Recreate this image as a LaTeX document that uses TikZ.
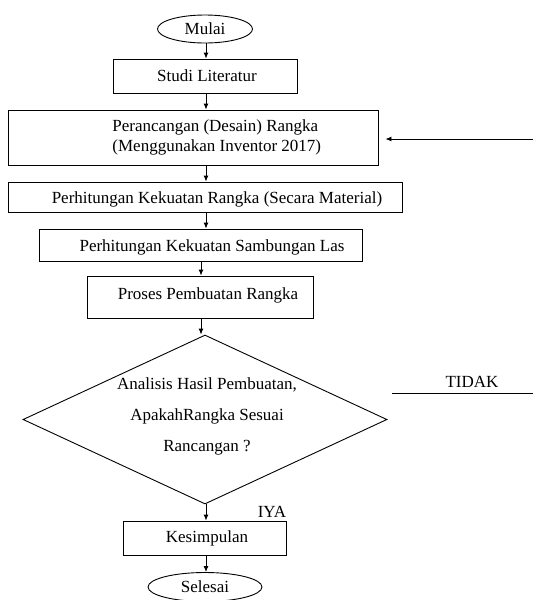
\documentclass[tikz,border=0pt]{standalone}
\usepackage{fontspec}
\setmainfont{Liberation Serif}
\usetikzlibrary{shapes.geometric,arrows.meta}
\begin{document}
\begin{tikzpicture}[x=1pt,y=-1pt,
  line width=0.9pt,
  every node/.style={font=\fontsize{17}{20}\selectfont},
  box/.style={draw, rectangle, inner sep=0pt},
  term/.style={draw, ellipse, inner sep=0pt},
  txt/.style={inner sep=0pt},
  arr/.style={-{Latex[length=6pt,width=5pt]}}]
\useasboundingbox (0,0) rectangle (533,600);
% x references for vertical connectors
\coordinate (xa) at (206,0);
\coordinate (xb) at (201,0);
% terminals
\node[term, minimum width=95pt, minimum height=28pt] (start) at (205,29) {Mulai};
\node[term, minimum width=114pt, minimum height=29pt] (stop) at (205,587) {Selesai};
% boxes
\node[box, minimum width=184pt, minimum height=34pt] (b1) at (205,76) {};
\node[txt] (t1) at (207,76) {Studi Literatur};
\node[box, minimum width=370pt, minimum height=55pt] (b2) at (193,137.5) {};
\node[txt, anchor=west, align=left] (t2) at (112,137.5) {Perancangan (Desain) Rangka\\(Menggunakan Inventor 2017)};
\node[box, minimum width=394pt, minimum height=30pt] (b3) at (205,197) {};
\node[txt] (t3) at (217,199) {Perhitungan Kekuatan Rangka (Secara Material)};
\node[box, minimum width=323pt, minimum height=32pt] (b4) at (200.5,245) {};
\node[txt] (t4) at (212,247) {Perhitungan Kekuatan Sambungan Las};
\node[box, minimum width=226pt, minimum height=42pt] (b5) at (200,297) {};
\node[txt] (t5) at (208,295) {Proses Pembuatan Rangka};
% decision
\node[draw, diamond, minimum width=364pt, minimum height=169pt, inner sep=0pt] (d) at (205,419.5) {};
\node[txt, align=center, font=\fontsize{17}{31}\selectfont] (td) at (207,416) {Analisis Hasil Pembuatan,\\ApakahRangka Sesuai\\Rancangan ?};
\node[box, minimum width=163pt, minimum height=34pt] (b6) at (204.5,538) {};
\node[txt] (t6) at (207,538) {Kesimpulan};
% labels
\node[txt] (tidak) at (472,382) {TIDAK};
\node[txt] (iya) at (272,512) {IYA};
\coordinate (tidakL) at (392,393);
\coordinate (tidakR) at (533,393);
\coordinate (backR) at (533,139);
% connectors
\draw[arr] (start.south -| xa) -- (b1.north -| xa);
\draw[arr] (b1.south -| xa) -- (b2.north -| xa);
\draw[arr] (b2.south -| xa) -- (b3.north -| xa);
\draw[arr] (b3.south -| xa) -- (b4.north -| xa);
\draw[arr] (b4.south -| xb) -- (b5.north -| xb);
\draw[arr] (b5.south -| xb) -- (d.north -| xb);
\draw[arr] (d.south -| xa) -- (b6.north -| xa);
\draw[arr] (b6.south -| xa) -- (stop.north -| xa);
\draw[arr, shorten >=7pt] (backR) -- (b2.east |- backR);
\draw (tidakL) -- (tidakR);
\end{tikzpicture}
\end{document}
